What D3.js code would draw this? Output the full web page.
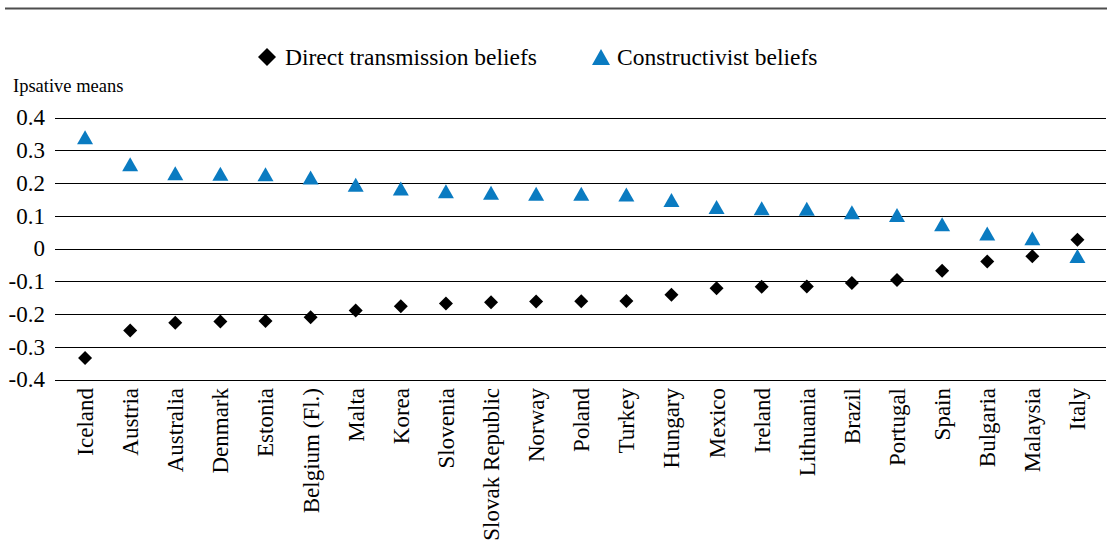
<!DOCTYPE html>
<html><head><meta charset="utf-8">
<script src="https://cdn.jsdelivr.net/npm/d3@7"></script>
<style>
html,body{margin:0;padding:0;background:#fff;}
svg{display:block;font-family:"Liberation Serif","Times New Roman",serif;}
</style></head>
<body><svg id="c" width="1107" height="542"></svg>
<script>
const countries = ["Iceland","Austria","Australia","Denmark","Estonia","Belgium (Fl.)","Malta","Korea","Slovenia","Slovak Republic","Norway","Poland","Turkey","Hungary","Mexico","Ireland","Lithuania","Brazil","Portugal","Spain","Bulgaria","Malaysia","Italy"];
const directTransmission = [-0.334,-0.250,-0.227,-0.223,-0.221,-0.210,-0.189,-0.176,-0.168,-0.164,-0.162,-0.161,-0.160,-0.141,-0.121,-0.117,-0.116,-0.105,-0.096,-0.068,-0.040,-0.024,0.027];
const constructivist = [0.340,0.257,0.230,0.228,0.227,0.217,0.195,0.183,0.175,0.170,0.167,0.167,0.165,0.148,0.127,0.123,0.121,0.111,0.102,0.074,0.046,0.031,-0.023];
const yTicks = [0.4,0.3,0.2,0.1,0,-0.1,-0.2,-0.3,-0.4];
const yTickLabels = ["0.4","0.3","0.2","0.1","0","-0.1","-0.2","-0.3","-0.4"];
const seriesNames = ["Direct transmission beliefs","Constructivist beliefs"];
const yAxisTitle = "Ipsative means";

const svg = d3.select("#c");
const blue = "#0a7bc1";

// top rule
svg.append("line").attr("x1",5).attr("x2",1107).attr("y1",8.5).attr("y2",8.5)
  .attr("stroke","#4d4d4d").attr("stroke-width",2);

const x = d3.scaleBand().domain(countries).range([62.5,1100]).padding(0);
const y = d3.scaleLinear().domain([-0.4,0.4]).range([379.5,117.5]);

// gridlines
svg.append("g").selectAll("line").data(yTicks).join("line")
  .attr("x1",55).attr("x2",1106)
  .attr("y1",d=>Math.round(y(d))+0.5).attr("y2",d=>Math.round(y(d))+0.5)
  .attr("stroke","#000").attr("stroke-width",1);

// y tick labels
svg.append("g").selectAll("text").data(yTicks).join("text")
  .attr("x",45).attr("y",d=>y(d)).attr("dy","0.34em")
  .attr("text-anchor","end").attr("font-size",23).attr("fill","#000")
  .text((d,i)=>yTickLabels[i]);

svg.append("text").attr("x",13).attr("y",92).attr("font-size",18.5).text(yAxisTitle);

// x labels
svg.append("g").selectAll("text").data(countries).join("text")
  .attr("transform",d=>`translate(${x(d)+x.bandwidth()/2+8},388) rotate(-90)`)
  .attr("text-anchor","end").attr("font-size",23).text(d=>d);

const diamond = (s)=>`M0,${-s}L${s},0L0,${s}L${-s},0Z`;
const tri = (w,h)=>`M0,${-h/2}L${w/2},${h/2}L${-w/2},${h/2}Z`;

svg.append("g").selectAll("path").data(directTransmission).join("path")
  .attr("transform",(d,i)=>`translate(${x(countries[i])+x.bandwidth()/2},${y(d)})`)
  .attr("d",diamond(7)).attr("fill","#000");

svg.append("g").selectAll("path").data(constructivist).join("path")
  .attr("transform",(d,i)=>`translate(${x(countries[i])+x.bandwidth()/2},${y(d)})`)
  .attr("d",tri(16,14)).attr("fill",blue);

// legend
const lg = svg.append("g");
lg.append("path").attr("transform","translate(267,57)").attr("d",diamond(9)).attr("fill","#000");
lg.append("text").attr("x",285).attr("y",57).attr("dy","0.33em").attr("font-size",23.5).text(seriesNames[0]);
lg.append("path").attr("transform","translate(601,57)").attr("d",tri(18,16)).attr("fill",blue);
lg.append("text").attr("x",617).attr("y",57).attr("dy","0.33em").attr("font-size",23.5).text(seriesNames[1]);
</script></body></html>
